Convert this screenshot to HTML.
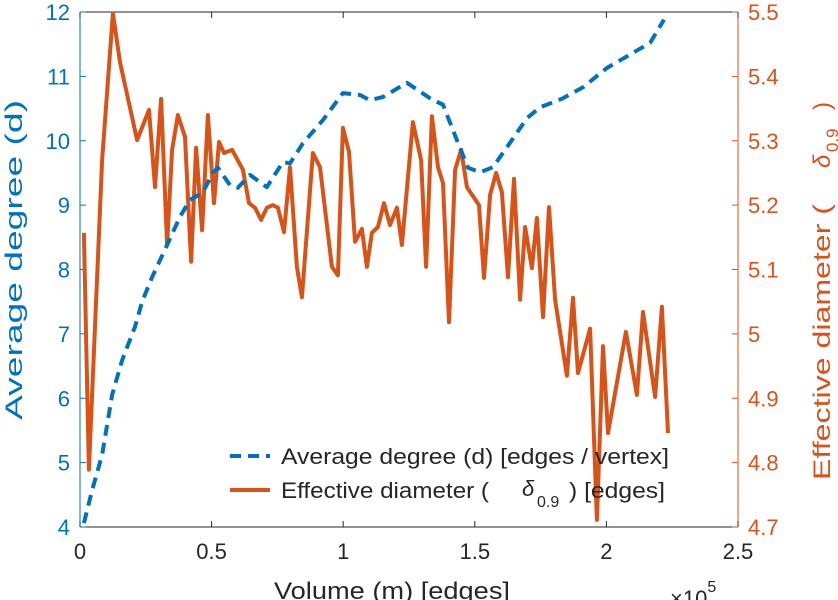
<!DOCTYPE html>
<html><head><meta charset="utf-8"><style>
html,body{margin:0;padding:0;background:#fff;}
svg{display:block;font-family:"Liberation Sans","DejaVu Sans",sans-serif;}
</style></head><body>
<svg id="chart" width="838" height="600" viewBox="0 0 838 600">
<g id="axes"></g>
<g id="series"></g>
<g id="legend">
 <line x1="230" y1="456" x2="270" y2="456" stroke="#0072BD" stroke-width="4" stroke-dasharray="11,7"/>
 <text x="281" y="464" font-size="22" fill="#262626" textLength="388" lengthAdjust="spacingAndGlyphs">Average degree (d) [edges / vertex]</text>
 <line x1="230" y1="490" x2="270" y2="490" stroke="#D95319" stroke-width="4"/>
 <text x="281" y="498" font-size="22" fill="#262626" textLength="208" lengthAdjust="spacingAndGlyphs">Effective diameter (</text>
 <text x="522" y="496" font-size="22" font-style="italic" fill="#262626">δ</text>
 <text x="537" y="507" font-size="16" fill="#262626">0.9</text>
 <text x="569" y="498" font-size="22" fill="#262626" textLength="96" lengthAdjust="spacingAndGlyphs">) [edges]</text>
</g>
<text x="392" y="599" font-size="24" fill="#262626" text-anchor="middle" textLength="236" lengthAdjust="spacingAndGlyphs">Volume (m) [edges]</text>
<text x="670" y="606" font-size="22" fill="#262626">×10<tspan font-size="16" dy="-14">5</tspan></text>
<text transform="translate(22,260) rotate(-90)" font-size="24" fill="#0072BD" text-anchor="middle" textLength="320" lengthAdjust="spacingAndGlyphs">Average degree (d)</text>
<g>
<text transform="translate(830,342) rotate(-90)" font-size="24" fill="#D95319" text-anchor="middle" textLength="276" lengthAdjust="spacingAndGlyphs">Effective diameter (</text>
<text transform="translate(830,168) rotate(-90)" font-size="24" fill="#D95319" font-style="italic">δ</text>
<text transform="translate(838,152) rotate(-90)" font-size="17" fill="#D95319">0.9</text>
<text transform="translate(830,110) rotate(-90)" font-size="24" fill="#D95319">)</text>
</g>
</svg>
<script>
const xTicks = [0, 0.5, 1, 1.5, 2, 2.5];
const xTickLabels = ["0", "0.5", "1", "1.5", "2", "2.5"];
const leftTicks = [4, 5, 6, 7, 8, 9, 10, 11, 12];
const rightTicks = [4.7, 4.8, 4.9, 5, 5.1, 5.2, 5.3, 5.4, 5.5];
const rightTickLabels = ["4.7","4.8","4.9","5","5.1","5.2","5.3","5.4","5.5"];
const degreeX = [0.015,0.046,0.084,0.122,0.160,0.209,0.236,0.274,0.331,0.380,0.418,0.467,0.505,0.524,0.570,0.600,0.646,0.710,0.771,0.798,0.847,0.923,0.999,1.064,1.102,1.151,1.242,1.330,1.379,1.432,1.474,1.520,1.569,1.634,1.698,1.748,1.835,1.911,2.002,2.052,2.166,2.219];
const degreeY = [4.06,4.57,5.12,6.05,6.59,7.11,7.50,7.88,8.38,8.82,9.08,9.20,9.50,9.58,9.31,9.27,9.47,9.28,9.67,9.65,9.96,10.32,10.74,10.71,10.63,10.68,10.90,10.66,10.56,10.01,9.58,9.51,9.59,9.97,10.35,10.52,10.66,10.83,11.13,11.25,11.52,11.88];
const diamX = [0.015,0.034,0.084,0.125,0.152,0.217,0.262,0.285,0.308,0.331,0.350,0.372,0.399,0.422,0.441,0.464,0.486,0.509,0.528,0.547,0.578,0.619,0.642,0.665,0.688,0.710,0.733,0.752,0.775,0.798,0.824,0.843,0.885,0.912,0.957,0.980,0.999,1.022,1.045,1.071,1.090,1.109,1.132,1.155,1.178,1.204,1.223,1.265,1.296,1.315,1.337,1.360,1.379,1.402,1.425,1.448,1.470,1.516,1.535,1.558,1.581,1.603,1.626,1.649,1.672,1.691,1.717,1.736,1.759,1.782,1.805,1.850,1.873,1.892,1.938,1.964,1.987,2.006,2.074,2.116,2.139,2.185,2.211,2.234];
const diamY = [5.157,4.789,5.270,5.498,5.422,5.301,5.348,5.228,5.365,5.138,5.286,5.340,5.306,5.112,5.289,5.161,5.340,5.203,5.298,5.281,5.286,5.255,5.203,5.196,5.177,5.196,5.200,5.196,5.158,5.259,5.104,5.057,5.281,5.259,5.104,5.091,5.320,5.283,5.143,5.163,5.104,5.157,5.166,5.203,5.169,5.196,5.138,5.329,5.270,5.104,5.338,5.259,5.234,5.018,5.255,5.286,5.228,5.200,5.087,5.216,5.250,5.220,5.088,5.241,5.053,5.166,5.102,5.180,5.026,5.197,5.053,4.935,5.056,4.939,5.008,4.711,4.981,4.846,5.003,4.905,5.034,4.902,5.042,4.846];

const L=80,R=738,T=12,B=527;
const sx=v=>L+(v-0)/(2.5-0)*(R-L);
const syL=v=>B-(v-4)/(12-4)*(B-T);
const syR=v=>B-(v-4.7)/(5.5-4.7)*(B-T);
const NS="http://www.w3.org/2000/svg";
function mk(tag,attrs,parent){const e=document.createElementNS(NS,tag);for(const k in attrs)e.setAttribute(k,attrs[k]);parent.appendChild(e);return e;}
const axes=document.getElementById('axes');
const series=document.getElementById('series');

let e;
e=mk('line',{x1:L,y1:T,x2:R,y2:T,stroke:'#262626','stroke-width':1},axes);


e=mk('line',{x1:L,y1:B,x2:R,y2:B,stroke:'#262626','stroke-width':1},axes);


e=mk('line',{x1:L,y1:T,x2:L,y2:B,stroke:'#0072BD','stroke-width':1},axes);


e=mk('line',{x1:R,y1:T,x2:R,y2:B,stroke:'#D95319','stroke-width':1},axes);



xTicks.forEach((v,i)=>{
  const x=sx(v);
  let t=mk('line',{x1:x,y1:B,x2:x,y2:B-6,stroke:'#262626'},axes);
  
  
  t=mk('line',{x1:x,y1:T,x2:x,y2:T+6,stroke:'#262626'},axes);
  
  
  const tx=mk('text',{x:x,y:B+32,'font-size':22,fill:'#262626','text-anchor':'middle'},axes);
  tx.textContent=xTickLabels[i];
  
  
});
leftTicks.forEach(v=>{
  const y=syL(v);
  let t=mk('line',{x1:L,y1:y,x2:L+6,y2:y,stroke:'#0072BD'},axes);
  
  
  const tx=mk('text',{x:L-10,y:y+8,'font-size':22,fill:'#0072BD','text-anchor':'end'},axes);
  tx.textContent=String(v);
  
  
});
rightTicks.forEach((v,i)=>{
  const y=syR(v);
  let t=mk('line',{x1:R,y1:y,x2:R-6,y2:y,stroke:'#D95319'},axes);
  
  
  const tx=mk('text',{x:R+10,y:y+8,'font-size':22,fill:'#D95319','text-anchor':'start'},axes);
  tx.textContent=rightTickLabels[i];
  
  
});

const dPts=diamX.map((x,i)=>sx(x).toFixed(1)+','+syR(diamY[i]).toFixed(1)).join(' ');
const dl=mk('polyline',{points:dPts,fill:'none',stroke:'#D95319','stroke-width':4,'stroke-linejoin':'round'},series);


const aPts=degreeX.map((x,i)=>sx(x).toFixed(1)+','+syL(degreeY[i]).toFixed(1)).join(' ');
const al=mk('polyline',{points:aPts,fill:'none',stroke:'#0072BD','stroke-width':4,'stroke-dasharray':'11,7','stroke-linejoin':'round'},series);


</script>
</body></html>
